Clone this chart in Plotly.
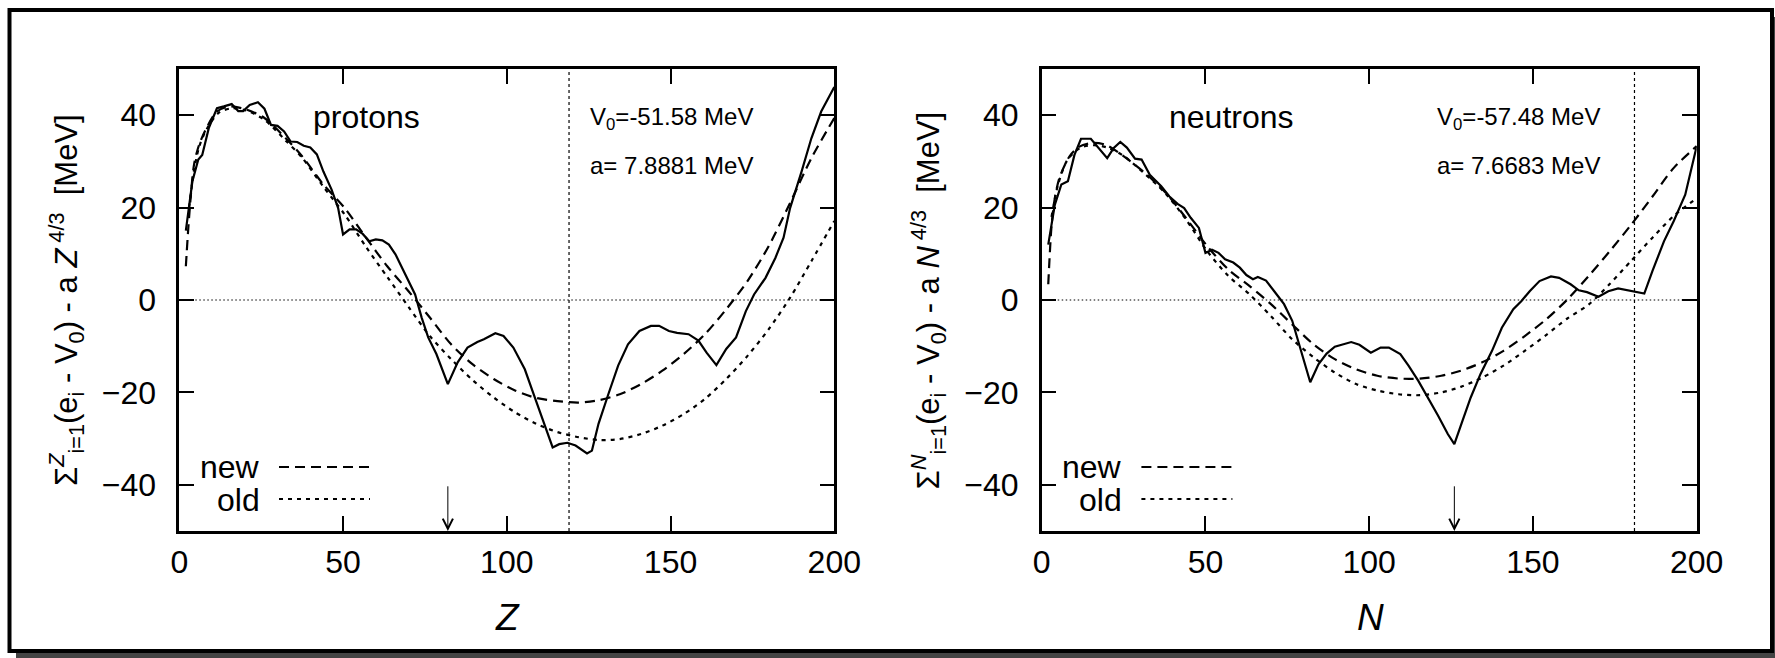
import plotly.graph_objects as go

# ---------------- data ----------------
Z_solid = [2, 4, 5.8, 7, 9, 11.5, 13.6, 16, 18, 19.5, 21.5, 24, 26, 28, 30, 32, 34, 36, 38, 40, 42, 44,
           46.5, 48.5, 50, 52, 54, 56, 58, 60, 62, 64, 66, 69, 72, 74, 76, 78.5, 82, 85, 88, 91, 93, 96.5,
           99, 102, 105.5, 108, 111, 114, 116, 118.5, 121, 124.5, 126, 128, 131, 134, 137, 140.5, 144,
           146.5, 149.5, 152, 155.5, 158.5, 161, 164, 167, 170, 173, 175.5, 179, 182, 184.5, 186.5, 190,
           193, 196, 200]
E_prot_solid = [15.0, 25.7, 30.4, 31.4, 37.2, 41.5, 41.9, 42.4, 40.9, 40.9, 42.2, 42.8, 41.4, 37.9, 37.7,
                36.5, 34.3, 34.2, 33.4, 33.0, 31.5, 27.8, 23.9, 19.9, 14.2, 15.3, 15.3, 14.3, 12.7, 13.1,
                12.9, 12.0, 9.9, 5.5, 1.2, -3.8, -8.1, -11.7, -18.2, -13.5, -10.3, -9.1, -8.5, -7.2, -7.8,
                -10.3, -15.0, -20.0, -25.8, -31.9, -31.2, -30.9, -31.5, -33.2, -32.6, -26.8, -20.4, -14.2,
                -9.6, -6.7, -5.6, -5.6, -6.7, -7.1, -7.4, -8.8, -11.4, -14.1, -10.6, -8.1, -2.4, 1.2, 4.8,
                9.1, 13.5, 19.9, 27.8, 35.0, 40.8, 46.1]

Z_new = [2, 3, 4.5, 6, 8, 11.5, 15.5, 20.5, 26, 32.5, 37.5, 44, 50.5, 57, 63.5, 70, 76.5, 83, 89.5, 96,
         102.5, 109, 115.5, 122, 128, 134.5, 141, 147.5, 154, 160.5, 167, 173.5, 180, 186.5, 193, 200]
E_prot_new = [7.3, 18.0, 29.3, 33.5, 36.8, 40.8, 41.9, 41.2, 39.4, 35.0, 31.1, 25.0, 19.9, 13.5, 7.3, 1.9,
              -3.8, -9.6, -13.9, -17.1, -19.6, -21.2, -21.9, -22.2, -21.7, -20.4, -18.2, -15.3, -11.7,
              -7.4, -2.0, 4.1, 11.7, 21.0, 30.7, 39.4]

Z_old = [3, 4.5, 6, 8, 12, 16, 20.5, 26, 32.5, 37.5, 44, 50.5, 57, 63.5, 70, 76.5, 83, 89.5, 96, 102.5,
         109, 115.5, 122, 128, 134.5, 141, 147.5, 154, 160.5, 167, 173.5, 180, 186.5, 193, 200]
E_prot_old = [20.0, 28.0, 33.0, 36.5, 40.5, 41.5, 41.0, 39.0, 34.5, 30.8, 24.5, 18.5, 11.5, 5.0, -1.5, -7.8,
              -12.8, -17.3, -21.1, -24.3, -26.8, -28.6, -29.7, -30.3, -30.1, -29.0, -27.2, -24.7, -21.4,
              -17.1, -12.1, -6.3, 0.5, 8.4, 17.1]

N_solid = [2, 4, 6, 8, 10, 12, 15, 17.5, 20, 22, 24, 26, 28.5, 30.5, 33, 36.5, 39, 41.5, 43.5, 45.5, 48, 50,
           52, 54, 56, 58.5, 60.5, 62.5, 64.5, 66, 68.5, 71, 74, 76.5, 79, 82, 84.5, 87, 89.5, 92, 94.5, 97,
           100.5, 103.5, 106, 109.5, 112, 115, 118, 121, 124, 126, 128.5, 131, 134, 137.5, 140.5, 144,
           146.5, 149, 152, 155.5, 158, 161.5, 164, 166.5, 170, 173, 176, 180, 184, 186.5, 190, 193, 196.5,
           200]
E_neut_solid = [12.0, 20.6, 25.0, 25.7, 31.4, 34.9, 34.9, 32.9, 30.7, 32.9, 34.2, 33.0, 30.6, 30.4, 27.1,
                24.6, 22.4, 20.8, 19.9, 17.8, 15.6, 10.2, 10.9, 10.2, 8.8, 8.1, 7.0, 5.4, 4.5, 5.0, 4.2, 1.9,
                -0.9, -4.5, -10.3, -17.8, -13.9, -11.6, -10.1, -9.6, -9.1, -9.7, -11.4, -10.3, -10.3, -11.7,
                -14.2, -17.5, -21.1, -25.0, -29.0, -31.2, -26.1, -21.1, -16.0, -11.0, -6.0, -2.0, -0.2, 1.9,
                4.1, 5.1, 4.8, 3.4, 2.1, 1.7, 0.7, 1.9, 2.5, 1.9, 1.4, 6.3, 12.7, 17.1, 22.8, 33.3]

N_new = [2, 3, 4, 5.5, 8.5, 11.5, 15.5, 19.5, 24.5, 31, 37.5, 44, 50.5, 57, 63.5, 70, 76.5, 83, 89.5, 96,
         102.5, 109, 115.5, 122, 128, 134.5, 141, 147.5, 154, 160.5, 167, 173.5, 180, 186.5, 193, 200]
E_neut_new = [3.4, 16.0, 22.0, 26.6, 31.1, 33.2, 34.0, 33.6, 31.4, 27.8, 23.5, 17.8, 11.7, 6.6, 3.0, -0.9,
              -5.3, -9.6, -12.8, -15.0, -16.4, -17.0, -17.0, -16.4, -15.3, -13.5, -11.0, -7.8, -4.2, 0.1,
              5.2, 10.6, 16.3, 22.4, 28.6, 33.3]

N_old = [3, 5, 8, 12, 16, 20, 25, 31, 37.5, 44, 50.5, 57, 63.5, 70, 76.5, 83, 89.5, 96, 102.5, 109, 115.5,
         122, 128, 134.5, 141, 147.5, 154, 160.5, 167, 173.5, 180, 186.5, 193, 200]
E_neut_old = [18.0, 25.0, 30.5, 33.0, 33.5, 33.0, 31.2, 27.6, 23.3, 17.5, 10.6, 5.2, 1.2, -3.5, -8.5, -12.4,
              -15.7, -18.2, -19.6, -20.4, -20.6, -20.0, -18.8, -16.8, -14.2, -11.0, -7.6, -4.0, -1.0, 3.5,
              8.5, 13.5, 18.2, 22.0]

x_ticks = [0, 50, 100, 150, 200]
y_ticks = [-40, -20, 0, 20, 40]
magic_arrow = [82, 126]        # arrows (Z=82, N=126)
vline_pos = [119, 181]         # vertical dotted lines
V0_text = ["V<sub>0</sub>=-51.58 MeV", "V<sub>0</sub>=-57.48 MeV"]
a_text = ["a= 7.8881 MeV", "a= 7.6683 MeV"]
panel_label = ["protons", "neutrons"]
axis_sym = ["Z", "N"]

# ---------------- figure ----------------
W, H = 1775, 658
FONT = "Liberation Sans, Arial, Helvetica, sans-serif"


def px(x):
    return x / W


def py(y):
    return 1 - y / H


fig = go.Figure()

DASH_NEW = "10px,6px"
DASH_OLD = "4px,5px"

panels = [
    (Z_solid, E_prot_solid, Z_new, E_prot_new, Z_old, E_prot_old),
    (N_solid, E_neut_solid, N_new, E_neut_new, N_old, E_neut_old),
]
for i, (xs, ys, xn, yn, xo, yo) in enumerate(panels):
    xa = "x" if i == 0 else "x2"
    ya = "y" if i == 0 else "y2"
    fig.add_trace(go.Scatter(x=xo, y=yo, mode="lines", xaxis=xa, yaxis=ya,
                             line=dict(color="black", width=2.2, dash=DASH_OLD, shape="spline", smoothing=0.8),
                             showlegend=False, hoverinfo="skip"))
    fig.add_trace(go.Scatter(x=xn, y=yn, mode="lines", xaxis=xa, yaxis=ya,
                             line=dict(color="black", width=2.2, dash=DASH_NEW, shape="spline", smoothing=0.8),
                             showlegend=False, hoverinfo="skip"))
    fig.add_trace(go.Scatter(x=xs, y=ys, mode="lines", xaxis=xa, yaxis=ya,
                             line=dict(color="black", width=2.2),
                             showlegend=False, hoverinfo="skip"))

# plot frames (pixels)
frames = [(179.3, 834.3), (1041.7, 1696.7)]
ytop, ybot = 69, 531

axis_common = dict(showline=True, linewidth=2.5, linecolor="black", mirror="ticks",
                   ticks="inside", ticklen=15, tickwidth=2, tickcolor="black",
                   showgrid=False, zeroline=False, automargin=False,
                   tickfont=dict(family=FONT, size=32, color="black"))

fig.update_layout(
    xaxis=dict(domain=[px(frames[0][0]), px(frames[0][1])], range=[0, 200], tickvals=x_ticks,
               anchor="y", ticklabelstandoff=1, **axis_common),
    yaxis=dict(domain=[py(ybot), py(ytop)], range=[-50, 50], tickvals=y_ticks,
               anchor="x", ticklabelstandoff=14, **axis_common),
    xaxis2=dict(domain=[px(frames[1][0]), px(frames[1][1])], range=[0, 200], tickvals=x_ticks,
                anchor="y2", ticklabelstandoff=1, **axis_common),
    yaxis2=dict(domain=[py(ybot), py(ytop)], range=[-50, 50], tickvals=y_ticks,
                anchor="x2", ticklabelstandoff=14, **axis_common),
)

shapes = []
# outer box shadow + box (kept inside the paper)
shapes.append(dict(type="rect", xref="paper", yref="paper", x0=px(16), x1=1, y0=0, y1=py(17),
                   fillcolor="#444444", line=dict(width=0), layer="below"))
shapes.append(dict(type="rect", xref="paper", yref="paper", x0=px(9.5), x1=px(1772), y0=py(651), y1=py(10),
                   fillcolor="white", line=dict(color="black", width=4), layer="below"))

annotations = []
for i in range(2):
    xr = "x" if i == 0 else "x2"
    yr = "y" if i == 0 else "y2"
    # zero line
    shapes.append(dict(type="line", xref=xr, yref=yr, x0=0, x1=200, y0=0, y1=0,
                       line=dict(color="black", width=1.2, dash="1.5px,2.5px")))
    # vertical dotted line
    shapes.append(dict(type="line", xref=xr, yref=yr, x0=vline_pos[i], x1=vline_pos[i], y0=-50, y1=50,
                       line=dict(color="black", width=1.2, dash="3px,3px")))
    # arrow
    annotations.append(dict(x=magic_arrow[i], y=-50, ax=magic_arrow[i], ay=-40, xref=xr, yref=yr,
                            axref=xr, ayref=yr, text="", showarrow=True, arrowhead=5, arrowsize=2,
                            arrowwidth=1, arrowcolor="black"))
    x0 = frames[i][0]
    off = x0 - frames[0][0]
    # panel labels
    annotations.append(dict(xref="paper", yref="paper", x=px(366 + off + (3 if i else 0)), y=py(117),
                            text=panel_label[i], showarrow=False, xanchor="center", yanchor="middle",
                            font=dict(family=FONT, size=32, color="black")))
    vx = 588 if i == 0 else 1435
    annotations.append(dict(xref="paper", yref="paper", x=px(vx), y=py(118), text=V0_text[i],
                            showarrow=False, xanchor="left", yanchor="middle",
                            font=dict(family=FONT, size=24, color="black")))
    annotations.append(dict(xref="paper", yref="paper", x=px(vx), y=py(165), text=a_text[i],
                            showarrow=False, xanchor="left", yanchor="middle",
                            font=dict(family=FONT, size=24, color="black")))
    # legend
    annotations.append(dict(xref="paper", yref="paper", x=px(262 + off), y=py(467), text="new",
                            showarrow=False, xanchor="right", yanchor="middle",
                            font=dict(family=FONT, size=32, color="black")))
    annotations.append(dict(xref="paper", yref="paper", x=px(262 + off), y=py(500), text="old",
                            showarrow=False, xanchor="right", yanchor="middle",
                            font=dict(family=FONT, size=32, color="black")))
    shapes.append(dict(type="line", xref="paper", yref="paper", x0=px(279 + off), x1=px(374 + off),
                       y0=py(467), y1=py(467), line=dict(color="black", width=2.2, dash=DASH_NEW)))
    shapes.append(dict(type="line", xref="paper", yref="paper", x0=px(279 + off), x1=px(370 + off),
                       y0=py(499), y1=py(499), line=dict(color="black", width=2.2, dash=DASH_OLD)))
    # x axis title
    annotations.append(dict(xref="paper", yref="paper", x=px((frames[i][0] + frames[i][1]) / 2 + 1),
                            y=py(617), text="<i>%s</i>" % axis_sym[i], showarrow=False,
                            xanchor="center", yanchor="middle",
                            font=dict(family=FONT, size=37, color="black")))
    # y axis title
    s = axis_sym[i]
    ytitle = ("Σ<sup><i>%s</i></sup><sub>i=1</sub>(e<sub>i</sub> - V<sub>0</sub>) - a <i>%s</i>"
              "<sup> 4/3</sup>\u00a0\u00a0[MeV]") % (s, s)
    annotations.append(dict(xref="paper", yref="paper", x=px(66 + off), y=py(300), text=ytitle,
                            showarrow=False, textangle=-90, xanchor="center", yanchor="middle",
                            font=dict(family=FONT, size=31, color="black")))

fig.update_layout(width=W, height=H, margin=dict(l=0, r=0, t=0, b=0, pad=0), autosize=False,
                  paper_bgcolor="white", plot_bgcolor="rgba(0,0,0,0)",
                  shapes=shapes, annotations=annotations, showlegend=False)

fig.write_html("out.html", config={"displayModeBar": False, "responsive": False},
               post_script="document.body.style.margin='0px';document.body.style.padding='0px';"
                           "document.body.style.overflow='hidden';")
